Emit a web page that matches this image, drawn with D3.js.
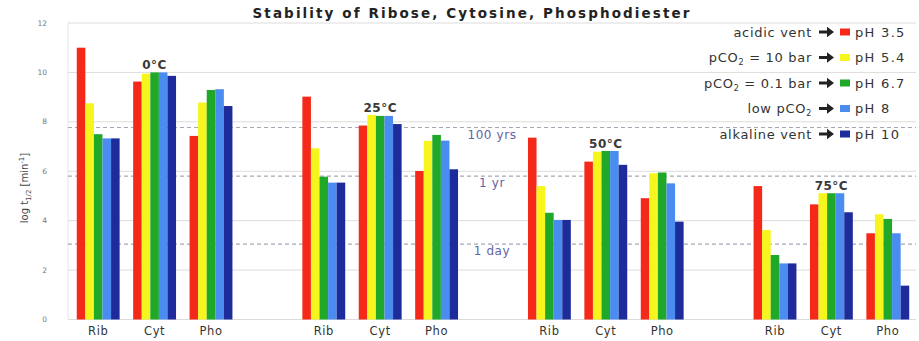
<!DOCTYPE html>
<html>
<head>
<meta charset="utf-8">
<script src="https://cdn.jsdelivr.net/npm/d3@7/dist/d3.min.js"></script>
<style>
  html, body { margin: 0; padding: 0; background: #fff; }
  svg { display: block; font-family: "DejaVu Sans", Verdana, sans-serif; }
</style>
</head>
<body>
<svg id="chart" width="919" height="341"></svg>
<script>
// Temperatures, compounds and pH conditions
const temperatures = ["0°C", "25°C", "50°C", "75°C"];
const compounds = ["Rib", "Cyt", "Pho"];
const conditions = ["acidic vent", "pCO2 = 10 bar", "pCO2 = 0.1 bar", "low pCO2", "alkaline vent"];
const phLabels = ["pH 3.5", "pH 5.4", "pH 6.7", "pH 8", "pH 10"];
const colors = ["#f5291a", "#f6f61e", "#1fa82a", "#4a8cf0", "#1d2c9a"];

// log10 half-life (minutes), one row per compound: [pH 3.5, 5.4, 6.7, 8, 10]
const values0 = [
  [11.0, 8.75, 7.5, 7.33, 7.33],
  [9.63, 9.95, 10.0, 10.0, 9.86],
  [7.43, 8.78, 9.29, 9.32, 8.64]
];
const values25 = [
  [9.02, 6.93, 5.78, 5.54, 5.54],
  [7.85, 8.28, 8.24, 8.24, 7.91],
  [6.01, 7.23, 7.47, 7.24, 6.08]
];
const values50 = [
  [7.36, 5.40, 4.32, 4.03, 4.03],
  [6.39, 6.79, 6.82, 6.82, 6.26],
  [4.91, 5.92, 5.95, 5.51, 3.96]
];
const values75 = [
  [5.40, 3.62, 2.61, 2.27, 2.27],
  [4.66, 5.11, 5.11, 5.11, 4.34],
  [3.49, 4.26, 4.07, 3.49, 1.37]
];
const valuesByTemp = [values0, values25, values50, values75];

// Reference half-lives (log10 minutes)
const refLines = [
  { label: "100 yrs", value: 7.77 },
  { label: "1 yr", value: 5.8 },
  { label: "1 day", value: 3.05 }
];
const yTicks = [0, 2, 4, 6, 8, 10, 12];
const title = "Stability of Ribose, Cytosine, Phosphodiester";

const svg = d3.select("#chart");
const margin = { left: 70, right: 3, top: 23, bottom: 21.5 };
const W = 919, H = 341;

// One slot per compound, with an empty slot between temperatures
const slots = [];
temperatures.forEach((t, ti) => {
  compounds.forEach(c => slots.push(t + "|" + c));
  if (ti < temperatures.length - 1) slots.push("gap" + ti);
});

const x = d3.scaleBand().domain(slots).range([margin.left, W - margin.right])
  .paddingInner(0.24).paddingOuter(0.12);
const xSeries = d3.scaleBand().domain(d3.range(phLabels.length)).range([0, x.bandwidth()]);
const y = d3.scaleLinear().domain([0, 12]).range([H - margin.bottom, margin.top]);

// Horizontal gridlines
svg.append("g").selectAll("line").data(yTicks).join("line")
  .attr("x1", margin.left - 2).attr("x2", W - margin.right)
  .attr("y1", d => y(d)).attr("y2", d => y(d))
  .attr("stroke", "#dcdcdc").attr("stroke-width", 1);

// Left frame line
svg.append("line")
  .attr("x1", margin.left - 2).attr("x2", margin.left - 2)
  .attr("y1", y(12)).attr("y2", y(0))
  .attr("stroke", "#e4e4e4");

// Tick labels
svg.append("g").selectAll("text").data(yTicks).join("text")
  .attr("x", 47).attr("y", d => y(d)).attr("dy", "0.35em")
  .attr("text-anchor", "end").attr("font-size", 7.5).attr("fill", "#777")
  .text(d => d);

// Reference dashed lines
svg.append("g").selectAll("line").data(refLines).join("line")
  .attr("x1", margin.left - 2).attr("x2", W - margin.right)
  .attr("y1", d => y(d.value)).attr("y2", d => y(d.value))
  .attr("stroke", "#a7a7b4").attr("stroke-width", 1.2)
  .attr("stroke-dasharray", "4,3");

// Bars
const flat = [];
temperatures.forEach((t, ti) => {
  compounds.forEach((c, ci) => {
    valuesByTemp[ti][ci].forEach((v, si) => flat.push({ slot: t + "|" + c, si, v }));
  });
});
svg.append("g").selectAll("rect").data(flat).join("rect")
  .attr("x", d => x(d.slot) + xSeries(d.si))
  .attr("width", xSeries.bandwidth())
  .attr("y", d => y(d.v))
  .attr("height", d => y(0) - y(d.v))
  .attr("fill", d => colors[d.si]);

// Reference labels
svg.append("g").selectAll("text").data(refLines).join("text")
  .attr("x", 492).attr("y", d => y(d.value) + 11)
  .attr("text-anchor", "middle").attr("font-size", 12).attr("letter-spacing", 0.6)
  .attr("fill", "#6464a4")
  .text(d => d.label);

// Temperature labels above the Cyt groups
svg.append("g").selectAll("text").data(temperatures).join("text")
  .attr("x", (t) => x(t + "|Cyt") + x.bandwidth() / 2)
  .attr("y", (t, ti) => y(d3.max(valuesByTemp[ti][1])) - 3)
  .attr("text-anchor", "middle").attr("font-size", 12).attr("font-weight", "bold")
  .attr("letter-spacing", 0.5).attr("fill", "#3a3a3a")
  .text(t => t);

// Category labels
svg.append("g").selectAll("text").data(slots.filter(s => !s.startsWith("gap"))).join("text")
  .attr("x", s => x(s) + x.bandwidth() / 2).attr("y", 335)
  .attr("text-anchor", "middle").attr("font-size", 11.5).attr("letter-spacing", 0.6)
  .attr("fill", "#333")
  .text(s => s.split("|")[1]);

// Title
svg.append("text").attr("x", 472).attr("y", 18)
  .attr("text-anchor", "middle").attr("font-size", 13.5).attr("font-weight", "bold")
  .attr("letter-spacing", 2.1).attr("fill", "#222").text(title);

// Y-axis title: log t1/2 [min-1]
const yt = svg.append("text")
  .attr("transform", "translate(28,188) rotate(-90)")
  .attr("text-anchor", "middle").attr("font-size", 10).attr("fill", "#444");
yt.append("tspan").text("log t");
yt.append("tspan").attr("font-size", 7).attr("dy", 3).text("1/2");
yt.append("tspan").attr("dy", -3).text(" [min");
yt.append("tspan").attr("font-size", 7).attr("dy", -4).text("-1");
yt.append("tspan").attr("dy", 4).text("]");

// Legend: condition -> colour -> pH
const legendY = d3.scaleLinear().domain([0, 4]).range([32, 134]);
const lg = svg.append("g");
conditions.forEach((c, i) => {
  const yy = legendY(i);
  const t = lg.append("text").attr("x", 812).attr("y", yy).attr("dy", "0.35em")
    .attr("text-anchor", "end").attr("font-size", 13).attr("letter-spacing", 0.7)
    .attr("fill", "#333");
  const m = c.match(/^(.*pCO)2(.*)$/);
  if (m) {
    t.append("tspan").text(m[1]);
    t.append("tspan").attr("font-size", 8).attr("dy", 3).text("2");
    t.append("tspan").attr("dy", -3).text(m[2]);
  } else {
    t.text(c);
  }
  // arrow
  lg.append("path")
    .attr("d", `M819,${yy - 1.6}h8v-3.6l7,5.2l-7,5.2v-3.6h-8z`)
    .attr("fill", "#222");
  lg.append("rect").attr("x", 840).attr("y", yy - 3.5).attr("width", 10).attr("height", 7)
    .attr("fill", colors[i]);
  lg.append("text").attr("x", 855).attr("y", yy).attr("dy", "0.35em")
    .attr("font-size", 13).attr("letter-spacing", 1.3).attr("fill", "#333").text(phLabels[i]);
});
</script>
</body>
</html>
